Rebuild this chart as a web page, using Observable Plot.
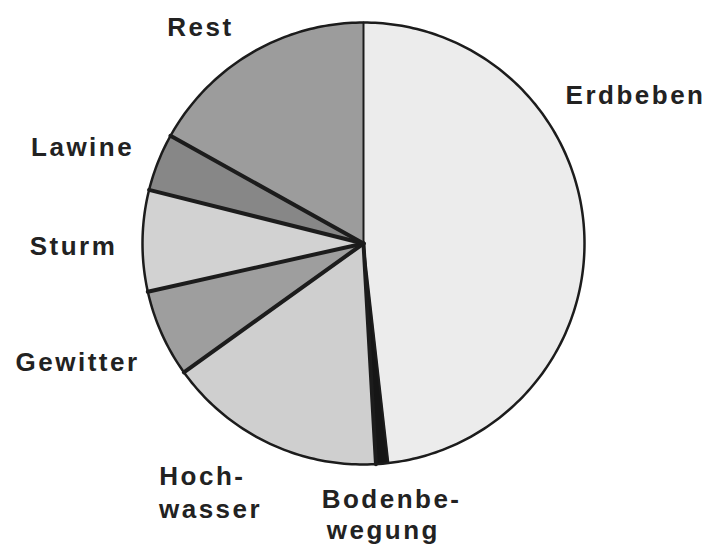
<!DOCTYPE html>
<html><head><meta charset="utf-8">
<script src="https://cdn.jsdelivr.net/npm/d3@7"></script>
<script src="https://cdn.jsdelivr.net/npm/@observablehq/plot@0.6"></script>
<style>
body{margin:0;background:#fff}
#chart svg text{letter-spacing:2.5px}
</style>
</head><body><div id="chart"></div>
<script>
// Slices, clockwise from 12 o'clock (percent shares)
const categories = ["Erdbeben","Bodenbewegung","Hochwasser","Gewitter","Sturm","Lawine","Rest"];
const shares     = [48.2, 0.9, 16.0, 6.4, 7.4, 4.2, 16.9];
const fills      = ["#ececec","#161616","#cfcfcf","#9e9e9e","#d2d2d2","#878787","#9c9c9c"];

// Label text lines (one entry per printed line)
const labelText = ["Erdbeben","Bodenbe-","wegung","Hoch-","wasser","Gewitter","Sturm","Lawine","Rest"];
// label anchors in pie-radius units (centre 0,0; y up), baseline of each line
const labelX = [1.231, 0.127, 0.090, -0.729, -0.692, -1.294, -1.312, -1.271, -0.738];
const labelY = [0.629, -1.199, -1.335, -1.095, -1.240, -0.575, -0.050, 0.398, 0.941];

const W = 709, H = 545, CX = 363, CY = 243, R = 221;

const arcs = d3.pie().sort(null).value(d => d.v)(categories.map((c, i) => ({c, v: shares[i], f: fills[i]})));

function slicePolygon(a) {
  const pts = [{x: 0, y: 0}];
  const n = Math.max(2, Math.ceil((a.endAngle - a.startAngle) / 0.01));
  for (let k = 0; k <= n; k++) {
    const t = a.startAngle + (a.endAngle - a.startAngle) * k / n;
    pts.push({x: Math.sin(t), y: Math.cos(t)});
  }
  pts.push({x: 0, y: 0});
  return pts;
}

const boundaries = arcs.map((a, i) => ({
  x1: 0, y1: 0, x2: Math.sin(a.startAngle), y2: Math.cos(a.startAngle),
  w: (i === 0 || i === 1) ? 2 : 4
}));

const circle = d3.range(0, 361).map(d => ({x: Math.sin(d * Math.PI / 180), y: Math.cos(d * Math.PI / 180)}));

const labels = labelText.map((t, i) => ({t, x: labelX[i], y: labelY[i]}));

const plot = Plot.plot({
  width: W, height: H, margin: 0,
  x: {domain: [-CX / R, (W - CX) / R], axis: null},
  y: {domain: [-(H - CY) / R, CY / R], axis: null},
  style: {fontFamily: "'Liberation Sans', Arial, sans-serif", background: "#fff"},
  marks: [
    ...arcs.map(a => Plot.line(slicePolygon(a), {x: "x", y: "y", fill: a.data.f, stroke: a.data.f, strokeWidth: 0.5})),
    Plot.link(boundaries, {x1: "x1", y1: "y1", x2: "x2", y2: "y2", stroke: "#1c1c1c", strokeWidth: "w", strokeLinecap: "round"}),
    Plot.line(circle, {x: "x", y: "y", stroke: "#1c1c1c", strokeWidth: 2.5}),
    Plot.text(labels, {x: "x", y: "y", text: "t", fontSize: 26, fontWeight: "bold", fill: "#222", lineAnchor: "bottom", textAnchor: "middle"})
  ]
});
document.getElementById("chart").appendChild(plot);
</script>
</body></html>
